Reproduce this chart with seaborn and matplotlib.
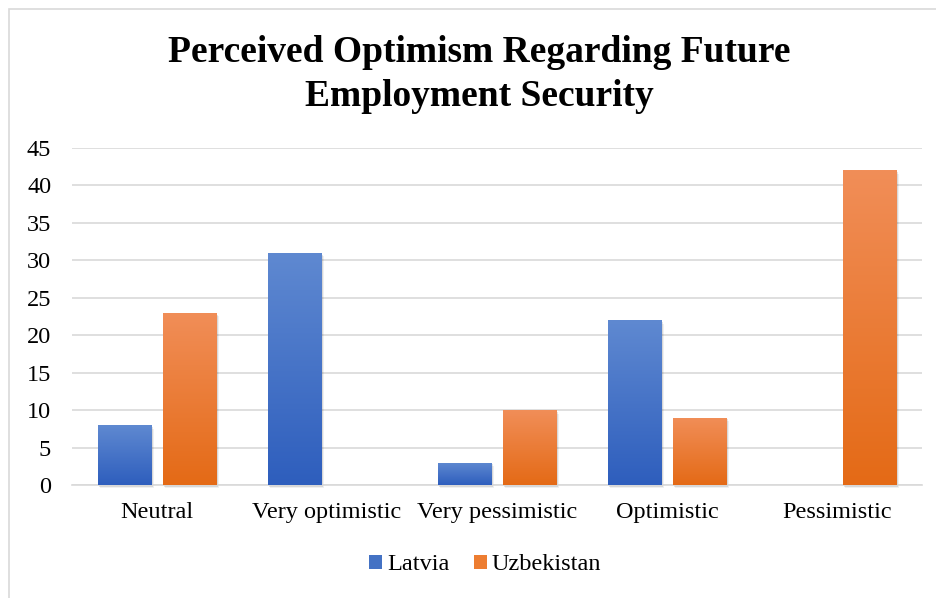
import numpy as np
import pandas as pd
import matplotlib
matplotlib.use("Agg")
import matplotlib.pyplot as plt
from matplotlib.patches import Rectangle, Patch
from matplotlib.colors import LinearSegmentedColormap
import seaborn as sns

# Survey responses by country
categories = ["Neutral", "Very optimistic", "Very pessimistic", "Optimistic", "Pessimistic"]
latvia = [8, 31, 3, 22, 0]
uzbekistan = [23, 0, 10, 9, 42]
series_names = ["Latvia", "Uzbekistan"]
y_ticks = [0, 5, 10, 15, 20, 25, 30, 35, 40, 45]

df = pd.DataFrame({
    "category": categories * 2,
    "country": [series_names[0]] * len(categories) + [series_names[1]] * len(categories),
    "value": latvia + uzbekistan,
})

sns.set_theme(style="white")
plt.rcParams["font.family"] = ["Liberation Serif", "DejaVu Serif"]
plt.rcParams["text.color"] = "black"

W, H = 936, 598
fig = plt.figure(figsize=(W / 100, H / 100), dpi=100)
ax = fig.add_axes([72 / W, 1 - 485 / H, (922 - 72) / W, (485 - 148) / H])

# gradient stops (top, bottom) for each series
grad = {
    "Latvia": ("#5F89D1", "#2E5EBD"),
    "Uzbekistan": ("#F18E58", "#E46A16"),
}
mid = {"Latvia": "#4472C4", "Uzbekistan": "#ED7D31"}

sns.barplot(data=df, x="category", y="value", hue="country", order=categories,
            hue_order=series_names, palette=mid, width=0.765, gap=0.17,
            ax=ax, legend=False, zorder=3)

ax.set_ylim(0, 45)
ax.set_xlim(-0.5, len(categories) - 0.5)
ax.set_yticks(y_ticks)
ax.set_yticklabels([str(v) for v in y_ticks])
ax.yaxis.grid(True, color="#D9D9D9", linewidth=1.2, zorder=0)
ax.set_axisbelow(True)
ax.set_xlabel("")
ax.set_ylabel("")
for s in ["left", "right", "top"]:
    ax.spines[s].set_visible(False)
ax.spines["bottom"].set_color("#D9D9D9")
ax.spines["bottom"].set_linewidth(1.2)
ax.tick_params(axis="both", length=0, labelsize=17.5, colors="black")
ax.tick_params(axis="y", pad=15)
ax.tick_params(axis="x", pad=12)

# replace flat fills with vertical gradients and a soft drop shadow
for container, name in zip(ax.containers, series_names):
    top_c, bot_c = grad[name]
    cmap = LinearSegmentedColormap.from_list(name, [bot_c, top_c])
    for bar in container.patches:
        h = bar.get_height()
        if h <= 0:
            bar.set_visible(False)
            continue
        x0, w = bar.get_x(), bar.get_width()
        for k, a in [(0.012, 0.10), (0.022, 0.06)]:
            sh = Rectangle((x0 + k * 0.6, -0.25 * k / 0.012), w, h, facecolor="#000000",
                           alpha=a, edgecolor="none", zorder=2.5, clip_on=False)
            ax.add_patch(sh)
        bar.set_facecolor("none")
        bar.set_edgecolor("none")
        g = np.linspace(0, 1, 256).reshape(-1, 1)
        im = ax.imshow(g, cmap=cmap, origin="lower", aspect="auto",
                       extent=(x0, x0 + w, 0, h), zorder=3)
        im.set_clip_path(bar)
ax.set_xlim(-0.5, len(categories) - 0.5)
ax.set_ylim(0, 45)

fig.text(0.512, 1 - 52 / H, "Perceived Optimism Regarding Future", ha="center", va="center",
         fontsize=27, fontweight="bold", color="black")
fig.text(0.512, 1 - 97 / H, "Employment Security", ha="center", va="center",
         fontsize=27, fontweight="bold", color="black")

handles = [Patch(facecolor=mid[n], edgecolor="none", label=n) for n in series_names]
fig.legend(handles=handles, loc="center", bbox_to_anchor=(485 / W, 1 - 565 / H),
           ncol=2, frameon=False, fontsize=17.5, handlelength=0.55, handleheight=0.55,
           handletextpad=0.2, columnspacing=1.0, labelcolor="black")

# chart frame
fig.add_artist(Rectangle((9 / W, -0.05), 1.1, 1 - 9 / H + 0.05, transform=fig.transFigure,
                         facecolor="none", edgecolor="#D9D9D9", linewidth=1.2))

fig.savefig("out.png", dpi=100)
